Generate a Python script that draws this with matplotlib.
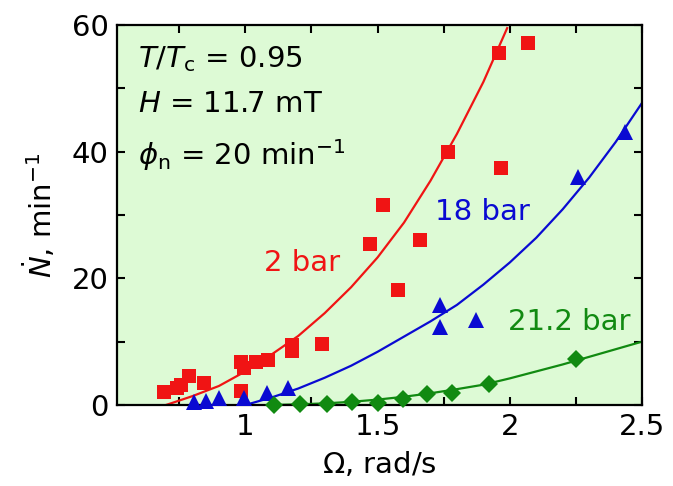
import numpy as np
import matplotlib.pyplot as plt
from matplotlib.ticker import MultipleLocator

plt.rcParams['font.family'] = ['DejaVu Sans']
plt.rcParams['mathtext.fontset'] = 'dejavusans'

# 2 bar (red squares)
x_2bar = [0.694, 0.740, 0.758, 0.785, 0.842, 0.985, 0.985, 0.996, 1.042, 1.087, 1.177,
          1.177, 1.291, 1.472, 1.521, 1.577, 1.660, 1.766, 1.966, 1.958, 2.068]
y_2bar = [2.05, 2.7, 3.2, 4.6, 3.5, 2.2, 6.8, 5.8, 6.8, 7.1, 9.5,
          8.5, 9.6, 25.4, 31.6, 18.2, 26.1, 40.0, 37.4, 55.6, 57.2]
# 18 bar (blue triangles)
x_18bar = [0.804, 0.853, 0.902, 0.996, 1.083, 1.162, 1.736, 1.736, 1.872, 2.257, 2.434]
y_18bar = [0.5, 0.6, 1.1, 1.1, 1.9, 2.7, 15.8, 12.3, 13.4, 36.0, 43.1]
# 21.2 bar (green diamonds)
x_21bar = [1.109, 1.208, 1.309, 1.404, 1.502, 1.596, 1.687, 1.781, 1.921, 2.249]
y_21bar = [0.0, 0.2, 0.2, 0.5, 0.3, 0.9, 1.7, 1.9, 3.3, 7.3]

# fitted curves
fx_2bar = [0.70, 0.80, 0.90, 1.00, 1.10, 1.20, 1.30, 1.40, 1.50, 1.60, 1.70, 1.80, 1.90, 1.99]
fy_2bar = [0.0, 1.4, 3.0, 5.3, 8.0, 10.9, 14.5, 18.6, 23.3, 28.8, 35.4, 42.8, 51.0, 59.5]
fx_18bar = [1.00, 1.10, 1.20, 1.30, 1.40, 1.50, 1.60, 1.70, 1.80, 1.90,
            2.00, 2.10, 2.20, 2.30, 2.40, 2.50]
fy_18bar = [0.0, 1.2, 2.6, 4.3, 6.2, 8.4, 10.8, 13.2, 15.8, 19.0,
            22.5, 26.4, 30.9, 35.9, 41.5, 47.7]
fx_21bar = [1.10, 1.20, 1.30, 1.40, 1.50, 1.60, 1.70, 1.80, 1.90, 2.00, 2.10, 2.20, 2.30, 2.40, 2.50]
fy_21bar = [0.0, 0.1, 0.25, 0.5, 0.85, 1.3, 1.85, 2.5, 3.2, 4.2, 5.3, 6.4, 7.6, 8.8, 10.0]

red = '#f01414'
blue = '#0a0ad2'
green = '#118a11'

fig = plt.figure(figsize=(6.73, 4.86), dpi=100)
ax = fig.add_axes([0.174, 0.1667, 0.780, 0.782])
ax.set_facecolor('#ddfad5')

ax.plot(fx_2bar, fy_2bar, c=red, lw=1.6, zorder=2)
ax.plot(fx_18bar, fy_18bar, c=blue, lw=1.6, zorder=2)
ax.plot(fx_21bar, fy_21bar, c=green, lw=1.6, zorder=2)

ax.plot(x_2bar, y_2bar, 's', c=red, ms=10.5, mew=0, zorder=3, clip_on=False)
ax.plot(x_18bar, y_18bar, '^', c=blue, ms=12, mew=0, zorder=3, clip_on=False)
ax.plot(x_21bar, y_21bar, 'D', c=green, ms=9.5, mew=0, zorder=3, clip_on=False)

ax.set_xlim(0.515, 2.5)
ax.set_ylim(0, 60)
ax.xaxis.set_minor_locator(MultipleLocator(0.25))
ax.yaxis.set_major_locator(MultipleLocator(20))
ax.yaxis.set_minor_locator(MultipleLocator(10))
ax.set_xticks([1, 1.5, 2, 2.5])
ax.set_xticklabels(['1', '1.5', '2', '2.5'])
ax.tick_params(which='both', direction='in', top=True, right=True, labelsize=21,
               width=1.5, length=6, pad=6)
for s in ax.spines.values():
    s.set_linewidth(1.6)

ax.set_xlabel(r'$\Omega$, rad/s', fontsize=21, labelpad=6)
ax.set_ylabel(r'$\dot{N}$, min$^{-1}$', fontsize=21, labelpad=10)

ax.text(0.04, 0.95, r'$T/T_{\rm c}$ = 0.95', transform=ax.transAxes, fontsize=21, va='top')
ax.text(0.04, 0.828, r'$H$ = 11.7 mT', transform=ax.transAxes, fontsize=21, va='top')
ax.text(0.04, 0.706, r'$\phi_{\rm n}$ = 20 min$^{-1}$', transform=ax.transAxes, fontsize=21, va='top')

ax.text(1.215, 22.4, '2 bar', color=red, fontsize=21, ha='center', va='center')
ax.text(1.898, 30.5, '18 bar', color=blue, fontsize=21, ha='center', va='center')
ax.text(2.223, 13.1, '21.2 bar', color=green, fontsize=21, ha='center', va='center')

fig.savefig('out.png', dpi=100)
